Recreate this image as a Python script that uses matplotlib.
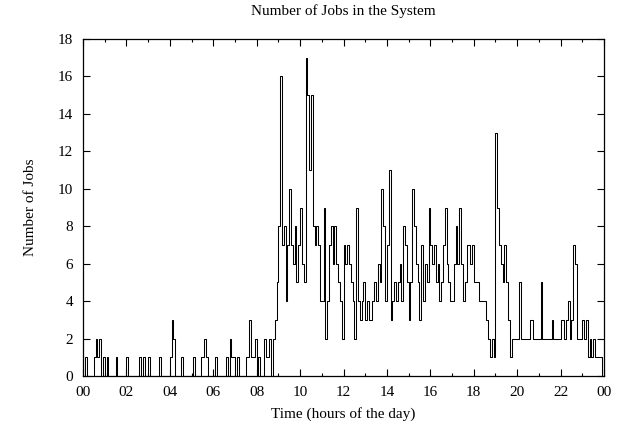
import numpy as np
import matplotlib
matplotlib.use("Agg")
import matplotlib.pyplot as plt
from matplotlib.ticker import MultipleLocator, FuncFormatter

# number of jobs, one value every 5 minutes (12 per hour)
jobs_00_04 = [
    0, 1, 0, 0, 0, 0, 1, 2, 1, 2, 0, 1,
    0, 1, 0, 0, 0, 0, 1, 0, 0, 0, 0, 0,
    1, 0, 0, 0, 0, 0, 0, 1, 0, 1, 0, 0,
    1, 0, 0, 0, 0, 0, 1, 0, 0, 0, 0, 0,
]
jobs_04_08 = [
    1, 3, 2, 0, 0, 0, 1, 0, 0, 0, 0, 0,
    0, 1, 0, 0, 0, 1, 1, 2, 1, 0, 0, 0,
    0, 1, 0, 0, 0, 0, 0, 1, 0, 2, 1, 1,
    0, 1, 0, 0, 0, 0, 1, 1, 3, 1, 1, 2,
]
jobs_08_12 = [
    0, 1, 0, 0, 2, 1, 1, 2, 0, 2, 3, 5,
    8, 16, 7, 8, 4, 7, 10, 7, 6, 8, 5, 7,
    9, 6, 5, 17, 15, 11, 15, 8, 7, 8, 7, 4,
    4, 9, 2, 4, 7, 8, 6, 8, 6, 5, 4, 2,
]
jobs_12_16 = [
    7, 6, 7, 6, 5, 4, 2, 9, 4, 3, 4, 5,
    3, 4, 3, 3, 4, 5, 4, 6, 5, 10, 8, 4,
    7, 11, 3, 4, 5, 4, 5, 6, 4, 8, 7, 5,
    3, 5, 10, 8, 6, 5, 3, 7, 4, 6, 5, 9,
]
jobs_16_20 = [
    7, 6, 7, 5, 6, 4, 5, 7, 9, 6, 5, 4,
    4, 6, 8, 6, 9, 6, 4, 5, 7, 7, 6, 7,
    5, 5, 5, 4, 4, 4, 4, 3, 2, 1, 2, 1,
    13, 9, 7, 6, 5, 7, 5, 3, 1, 2, 2, 2,
]
jobs_20_24 = [
    2, 5, 2, 2, 2, 2, 2, 3, 3, 2, 2, 2,
    2, 5, 2, 2, 2, 2, 2, 3, 2, 2, 2, 2,
    3, 3, 2, 3, 4, 2, 3, 7, 6, 2, 2, 2,
    3, 2, 3, 1, 2, 1, 2, 1, 1, 1, 1, 0,
]

jobs = np.concatenate([jobs_00_04, jobs_04_08, jobs_08_12,
                       jobs_12_16, jobs_16_20, jobs_20_24])
hours = np.arange(len(jobs)) / 12.0

plt.rcParams['font.family'] = ['Liberation Serif', 'DejaVu Serif']
plt.rcParams['font.size'] = 11

fig = plt.figure(figsize=(6.21, 4.32), dpi=100)
ax = fig.add_axes([0.1337, 0.1296, 0.8389, 0.7801])

ax.step(np.append(hours, 24), np.append(jobs, jobs[-1]), where='post',
        color='black', lw=0.75)

ax.set_xlim(0, 24)
ax.set_ylim(0, 18)
ax.xaxis.set_major_locator(MultipleLocator(2))
ax.xaxis.set_minor_locator(MultipleLocator(1))
ax.yaxis.set_major_locator(MultipleLocator(2))
ax.xaxis.set_major_formatter(FuncFormatter(lambda v, p: '%02d' % (int(round(v)) % 24)))
ax.tick_params(which='both', direction='in', top=True, right=True, width=0.8)
ax.tick_params(which='major', length=5, pad=7)
ax.tick_params(which='minor', length=2.5)
for s in ax.spines.values():
    s.set_linewidth(0.9)

ax.set_title('Number of Jobs in the System', fontsize=11, pad=17)
ax.set_xlabel('Time (hours of the day)', labelpad=6)
ax.set_ylabel('Number of Jobs', labelpad=15)

fig.savefig('out.png', dpi=100)
